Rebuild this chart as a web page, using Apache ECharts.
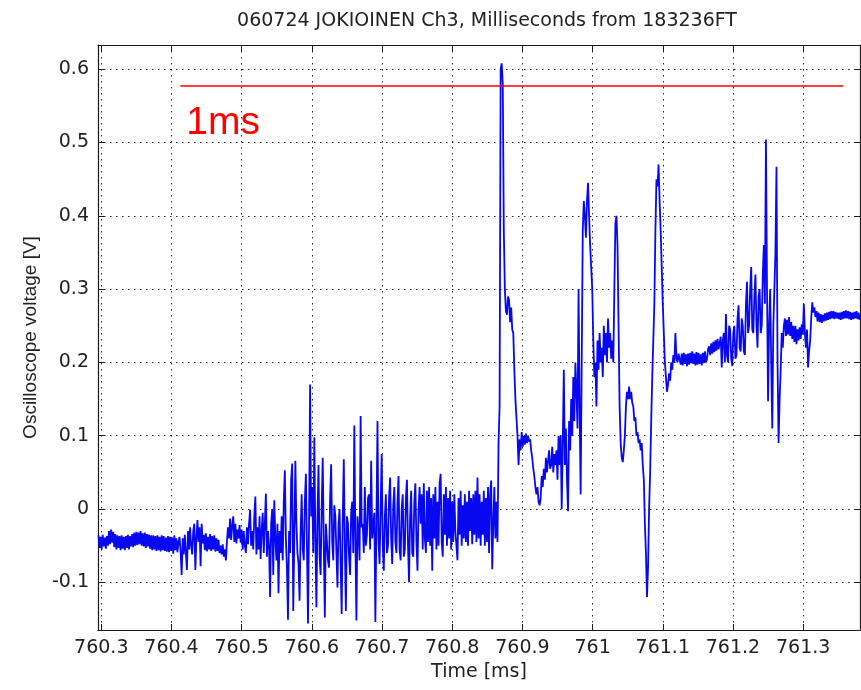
<!DOCTYPE html>
<html>
<head>
<meta charset="utf-8">
<title>060724 JOKIOINEN Ch3</title>
<script src="https://cdn.jsdelivr.net/npm/echarts@6/dist/echarts.min.js"></script>
<style>
  html, body { margin: 0; padding: 0; background: #fff; }
  #main { width: 861px; height: 690px; }
</style>
</head>
<body>
<div id="main"></div>
<script>
// oscilloscope trace: first sample time and sample step (ms)
var startTime = 760.296;
var sampleStep = 0.0015;

// voltage samples in mV, in time order
var baseline = [-36, -53, -38, -55, -35, -51, -39, -54, -37, -50,
  -30, -48, -28, -46, -31, -52, -34, -55, -36, -53,
  -37, -56, -36, -54, -38, -56, -37, -53, -35, -55,
  -37, -51, -34, -52, -32, -50, -31, -49, -32, -48,
  -30, -50, -33, -51, -32, -53, -34, -51, -35, -54,
  -36, -56, -36, -55, -37, -57, -36, -56, -38, -58,
  -36, -56, -37, -57, -39, -58, -37, -59, -38, -57,
  -39, -61, -36, -56, -40, -59];

var earlyNoise = [-45, -38, -58, -90, -40, -62, -35, -60, -83, -30,
  -55, -25, -50, -62, -30, -20, -83, -40, -15, -45,
  -25, -78, -20, -47, -35, -56, -33, -58, -38, -55,
  -34, -57, -37, -55, -36, -58, -40, -57, -42, -60,
  -50, -62, -48, -65, -55, -70, -44, -25, -40, -13,
  -42, -22, -10, -45, -20, -47, -28, -40, -22, -46,
  -28, -55, -30, -50, -60, -25, -48, -20, -1, -50,
  -30, -55, -10, 17, -62, -25, -55, -10, -68, -30,
  -5, -60, -20, 21, -65, -30, -50, -120, -20, 0,
  -90, 12, -40, -70, -20, -115, -30, -60, -10, -70,
  10, 53, -40, -80, -151, -30, -60, 40, 62];

var burstNoise = [-139, -40, 66, -20, -60, -75, -125, -30, 20, -55,
  -70, 10, 48, -50, -156, -20, 170, -10, 30, -60,
  98, -40, -134, -10, 60, -65, -90, 0, 70, -50,
  -148, -20, -20, -70, -80, 15, 61, -45, -70, 5,
  -10, -60, -107, -20, 0, -75, -143, -15, 68, -50,
  -139, -10, -20, -65, -90, -5, 10, -60, 114, -40,
  -152, -10, -30, -70, 127, -25, -20, -60, 30, -50,
  -35, 15, 20, -55, 66, -40, -40, -5, -154, -20,
  120, -45, -75, 0, 75, -50, -84, -10, 20, -60,
  -50, 15, 43, -40, -75, 5, 30, -45, -60, 10,
  45, -55, -70, 0, 20, -65, -55, 15, 40, -50,
  -100, -10, 25, -60, -65, 10, 35, -45, -84, 0,
  30, -20];

var lateNoise = [20, -55, 35, -40, -60, 25, -45, 30, -50, 15,
  -84, 20, -40, 30, -55, 10, -50, 35, 48, -45,
  -65, 20, -35, 30, -50, 15, -40, 25, -55, 10,
  -45, 20, -30, -50, -70, 15, -35, 25, -50, 5,
  -40, 20, -45, 10, -50, 25, -30, 15, -48, 20,
  -35, 25, -45, 43, -40, 20, -50, 10, -35, 25,
  -50, 15, -45, 30, -60, 20, 39, -82, -20, 30,
  -40, 10, -45];

var mainPulse = [90, 140, 600, 608, 580, 380, 300, 270, 265, 290,
  285, 255, 275, 245, 240, 190, 150, 125, 100, 60,
  95, 80, 105, 85, 100, 88, 103, 90, 100, 92,
  95, 80, 70, 55, 45, 30, 20, 30, 10, 5,
  15, 45, 30, 55, 40, 70, 50, 65, 80, 55,
  60, 85, 50, 75, 60, 80, 40, 100, 60, 100,
  0, 90, 190, 60, 110, 40, -3, 120, 80, 150,
  100, 180, 120, 200, 160, 110, 300, 140, 20, 200,
  380, 420, 400, 370, 420, 445, 400, 360, 330, 300,
  230, 180, 200, 140, 230, 190, 240, 200, 220, 180,
  250, 210, 240, 200, 260, 220, 240, 205, 230, 200,
  300, 390, 400, 360, 250, 140, 90, 70, 64, 80,
  100, 140, 160, 150, 167, 150, 160, 145, 140, 120,
  125, 100, 105, 90, 95, 80, 90, 60, 40, -20,
  -60, -120, -80, 0, 50, 120, 180, 230, 280, 380,
  450, 440, 470, 420, 380, 330, 280, 240, 200, 180];

var tail = [160, 170, 185, 175, 200, 190, 210, 200, 240, 205,
  200, 212, 214, 197, 212, 196, 213, 198, 211, 195,
  212, 197, 213, 199, 215, 198, 212, 196, 214, 197,
  213, 198, 211, 196, 213, 199, 215, 200, 205, 218,
  222, 210, 226, 212, 228, 214, 230, 216, 232, 218,
  220, 235, 193, 230, 240, 200, 266, 210, 200, 250,
  245, 205, 195, 240, 250, 205, 210, 260, 278, 220,
  215, 260, 250, 215, 210, 280, 310, 240, 250, 300,
  330, 245, 240, 290, 320, 250, 220, 290, 300, 240,
  250, 320, 360, 280, 504, 300, 147, 250, 300, 200,
  110, 250, 250, 350, 467, 200, 90, 150, 190, 240,
  220, 250, 260, 236, 258, 238, 262, 236, 255, 232,
  250, 228, 250, 225, 245, 230, 248, 232, 252, 238,
  280, 240, 220, 245, 193, 215, 230, 260, 282, 268,
  275, 262, 270, 256, 268, 255, 266, 254, 265, 256,
  267, 257, 268, 258, 269, 259, 270, 260, 270, 259,
  269, 260, 268, 259, 268, 258, 269, 259, 270, 260,
  271, 260, 270, 259, 269, 258, 268, 259, 269, 260,
  270, 259, 268, 258];

var timeTicks = [760.3, 760.4, 760.5, 760.6, 760.7, 760.8, 760.9, 761, 761.1, 761.2, 761.3];
var voltTicks = [-0.1, 0, 0.1, 0.2, 0.3, 0.4, 0.5, 0.6];

// red "1ms" scale bar
var scaleBarTimes = [760.4125, 761.357];
var scaleBarLevel = 0.577;

var titleText = '060724 JOKIOINEN Ch3, Milliseconds from 183236FT';

var samples = baseline.concat(earlyNoise, burstNoise, lateNoise, mainPulse, tail);
var trace = samples.map(function (mv, i) {
  return [startTime + i * sampleStep, mv / 1000];
});
var scaleBar = scaleBarTimes.map(function (t) { return [t, scaleBarLevel]; });

var chart = echarts.init(document.getElementById('main'));

var axisCol = '#1a1a1a';
var dotted = { color: '#222', width: 1, type: [1.5, 4.5] };
var fmt = function (v) { return String(+v.toFixed(2)); };

var option = {
  backgroundColor: '#fff',
  animation: false,
  textStyle: { fontFamily: 'DejaVu Sans' },
  grid: { left: 98, right: 1, top: 45, bottom: 60, containLabel: false },
  graphic: [{
    type: 'text',
    x: 487, y: 21,
    style: {
      text: titleText,
      font: '19px "DejaVu Sans"',
      fill: '#222',
      textAlign: 'center',
      textVerticalAlign: 'middle'
    }
  }],
  xAxis: [
    {
      type: 'value', position: 'bottom',
      min: 760.2953, max: 761.381,
      name: 'Time [ms]', nameLocation: 'middle', nameGap: 33,
      nameTextStyle: { fontSize: 19, color: '#222', fontFamily: 'DejaVu Sans' },
      axisLine: { show: true, onZero: false, lineStyle: { color: axisCol, width: 1.2 } },
      axisTick: { show: true, inside: true, length: 6, customValues: timeTicks, lineStyle: { color: axisCol } },
      axisLabel: { customValues: timeTicks, fontSize: 19, color: '#222', margin: 9, formatter: fmt },
      splitLine: { show: true, lineStyle: dotted }
    },
    {
      type: 'value', position: 'top',
      min: 760.2953, max: 761.381,
      axisLine: { show: true, onZero: false, lineStyle: { color: axisCol, width: 1.2 } },
      axisTick: { show: true, inside: true, length: 6, customValues: timeTicks, lineStyle: { color: axisCol } },
      axisLabel: { show: false },
      splitLine: { show: false }
    }
  ],
  yAxis: [
    {
      type: 'value', position: 'left',
      min: -0.165, max: 0.633,
      name: 'Oscilloscope voltage [V]', nameLocation: 'middle', nameGap: 58,
      nameTextStyle: { fontSize: 19, color: '#222', fontFamily: 'Liberation Sans' },
      axisLine: { show: true, onZero: false, lineStyle: { color: axisCol, width: 1.2 } },
      axisTick: { show: true, inside: true, length: 6, customValues: voltTicks, lineStyle: { color: axisCol } },
      axisLabel: { customValues: voltTicks, fontSize: 19, color: '#222', margin: 9, formatter: fmt },
      splitLine: { show: true, lineStyle: dotted }
    },
    {
      type: 'value', position: 'right',
      min: -0.165, max: 0.633,
      axisLine: { show: true, onZero: false, lineStyle: { color: axisCol, width: 1.2 } },
      axisTick: { show: true, inside: true, length: 6, customValues: voltTicks, lineStyle: { color: axisCol } },
      axisLabel: { show: false },
      splitLine: { show: false }
    }
  ],
  series: [
    {
      name: 'Ch3',
      type: 'line',
      data: trace,
      showSymbol: false,
      sampling: 'none',
      lineStyle: { color: '#0808f0', width: 1.8 },
      z: 2
    },
    {
      name: 'scale',
      type: 'line',
      data: scaleBar,
      showSymbol: false,
      lineStyle: { color: '#ff0000', width: 1.4 },
      z: 3
    }
  ]
};
chart.setOption(option);

// "1ms" label hangs under the left end of the scale bar
var barStart = chart.convertToPixel({ xAxisIndex: 0, yAxisIndex: 0 }, scaleBar[0]);
chart.setOption({
  graphic: [option.graphic[0], {
    type: 'text',
    x: barStart[0] + 6, y: barStart[1] + 37,
    style: {
      text: '1ms',
      font: '39px "Liberation Sans"',
      fill: '#ff0000',
      textAlign: 'left',
      textVerticalAlign: 'middle'
    }
  }]
});
</script>
</body>
</html>
